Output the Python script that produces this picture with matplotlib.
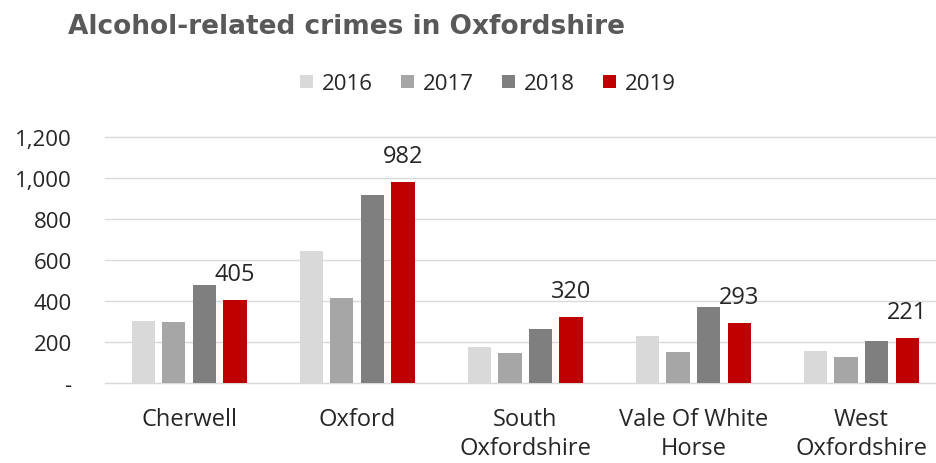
import numpy as np
import matplotlib
matplotlib.use('Agg')
import matplotlib.pyplot as plt
from matplotlib.ticker import FuncFormatter

districts = ['Cherwell', 'Oxford', 'South\nOxfordshire', 'Vale Of White\nHorse', 'West\nOxfordshire']
years = ['2016', '2017', '2018', '2019']
crimes_2016 = [302, 642, 178, 230, 157]
crimes_2017 = [297, 414, 146, 152, 128]
crimes_2018 = [477, 918, 265, 370, 205]
crimes_2019 = [405, 982, 320, 293, 221]
colors = ['#d9d9d9', '#a6a6a6', '#7f7f7f', '#c00000']

plt.rcParams['font.family'] = ['Open Sans', 'DejaVu Sans']

fig = plt.figure(figsize=(9.37, 4.64), dpi=100)
ax = fig.add_axes([105/937, 1 - 384/464, 832/937, 246/464])

x = np.arange(len(districts))
w = 0.138
pitch = 0.182
series = [crimes_2016, crimes_2017, crimes_2018, crimes_2019]
for i, (vals, c, yr) in enumerate(zip(series, colors, years)):
    ax.bar(x + (i - 1.5) * pitch, vals, width=w, color=c, label=yr, zorder=3)

for xi, v in zip(x, crimes_2019):
    ax.annotate(str(v), (xi + 1.5 * pitch, v), xytext=(0, 26), textcoords='offset pixels',
                ha='center', va='center', fontsize=17, color='#262626')

ax.set_xlim(-0.5, 4.45)
ax.set_ylim(0, 1200)
ax.set_yticks(range(0, 1201, 200))
ax.yaxis.set_major_formatter(FuncFormatter(lambda v, p: '-' if v == 0 else f'{int(v):,}'))
ax.grid(axis='y', color='#d9d9d9', linewidth=1, zorder=0)
for gl in ax.get_ygridlines():
    gl.set_clip_on(False)
ax.set_xticks(x)
ax.set_xticklabels(districts, linespacing=1.3)
ax.tick_params(axis='both', length=0, colors='#262626')
ax.tick_params(axis='y', pad=24, labelsize=16)
ax.tick_params(axis='x', pad=17, labelsize=17)
for s in ['top', 'right', 'left']:
    ax.spines[s].set_visible(False)
ax.spines['bottom'].set_color('#d9d9d9')

fig.text(68/937, 1 - 27/464, 'Alcohol-related crimes in Oxfordshire', fontsize=19,
         fontweight='bold', color='#595959', va='center', family='DejaVu Sans')
fig.legend(loc='center', bbox_to_anchor=(488/937, 1 - 85/464), ncol=4, frameon=False,
           fontsize=16, handlelength=0.55, handleheight=0.55, handletextpad=0.4,
           columnspacing=1.3, labelcolor='#262626')

fig.savefig('out.png', dpi=100)
